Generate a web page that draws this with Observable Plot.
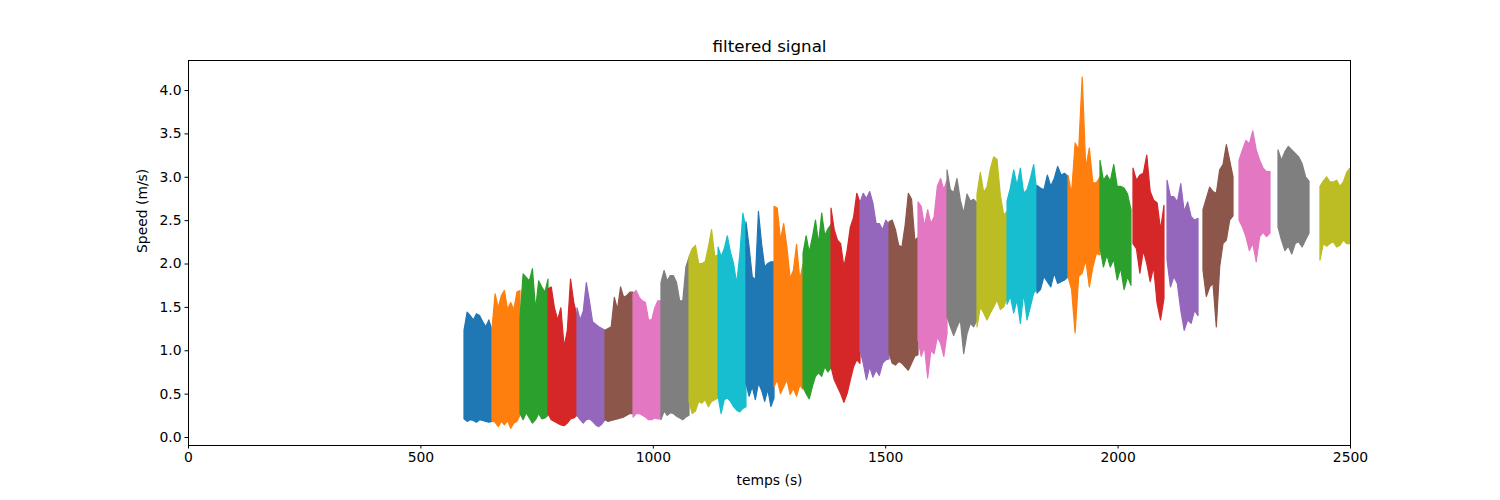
<!DOCTYPE html>
<html>
<head>
<meta charset="utf-8">
<script src="https://cdn.jsdelivr.net/npm/d3@7"></script>
<script src="https://cdn.jsdelivr.net/npm/@observablehq/plot@0.6"></script>
<style>
  html, body { margin: 0; padding: 0; background: #fff; }
</style>
</head>
<body>
<div id="chart"></div>
<script>
// Segment start / end times (s)
const segStart = [593.8, 654.0, 714.3, 774.5, 836.9, 897.2, 957.4, 1017.6, 1077.9, 1140.3,
  1200.5, 1260.8, 1323.2, 1383.4, 1445.8, 1508.2, 1570.6, 1633.0, 1697.5, 1762.1,
  1826.6, 1893.3, 1962.1, 2033.1, 2106.3, 2183.7, 2261.2, 2345.1, 2435.4];
const segEnd = [654.0, 714.3, 774.5, 836.9, 897.2, 957.4, 1017.6, 1077.9, 1140.3, 1200.5,
  1260.8, 1323.2, 1383.4, 1445.8, 1508.2, 1570.6, 1633.0, 1697.5, 1762.1, 1826.6,
  1893.3, 1962.1, 2028.8, 2099.8, 2173.0, 2248.3, 2327.9, 2411.8, 2500];

// Upper envelope of each segment (m/s)
const segHigh = [
  [1.23, 1.44, 1.40, 1.35, 1.42, 1.40, 1.33, 1.27, 1.35, 1.23],
  [1.25, 1.65, 1.49, 1.63, 1.69, 1.47, 1.55, 1.47, 1.67, 1.69],
  [1.38, 1.88, 1.84, 1.80, 1.94, 1.47, 1.80, 1.73, 1.67, 1.82],
  [1.71, 1.73, 1.49, 1.35, 1.49, 1.04, 1.23, 1.82, 1.55, 1.40],
  [1.49, 1.35, 1.45, 1.78, 1.57, 1.33, 1.30, 1.27, 1.25, 1.23],
  [1.23, 1.25, 1.27, 1.61, 1.47, 1.73, 1.61, 1.63, 1.67, 1.67],
  [1.65, 1.69, 1.61, 1.57, 1.55, 1.35, 1.35, 1.49, 1.57, 1.57],
  [1.78, 1.92, 1.80, 1.86, 1.86, 1.78, 1.57, 1.57, 1.96, 2.07],
  [2.08, 2.17, 2.21, 2.00, 2.00, 2.02, 2.19, 2.39, 2.08, 2.10],
  [2.19, 2.08, 2.17, 2.32, 2.13, 2.00, 1.77, 2.10, 2.58, 2.40],
  [2.48, 2.19, 1.85, 1.81, 2.60, 2.23, 1.96, 2.00, 2.02, 2.02],
  [2.66, 2.64, 2.27, 2.46, 2.19, 1.83, 1.92, 2.22, 1.81, 2.00],
  [2.12, 2.32, 2.13, 2.30, 2.50, 2.23, 2.58, 2.32, 2.40, 2.45],
  [2.64, 2.39, 2.27, 2.23, 1.96, 2.15, 2.42, 2.53, 2.81, 2.70],
  [2.70, 2.81, 2.75, 2.83, 2.70, 2.46, 2.46, 2.39, 2.50, 2.45],
  [2.48, 2.50, 2.39, 2.21, 2.19, 2.44, 2.81, 2.74, 2.27, 2.30],
  [2.71, 2.66, 2.43, 2.62, 2.46, 2.54, 2.89, 2.98, 2.85, 2.96],
  [3.08, 2.85, 2.82, 2.98, 2.73, 2.58, 2.80, 2.72, 2.74, 2.70],
  [2.80, 3.05, 2.82, 2.88, 3.09, 3.23, 3.20, 2.79, 2.56, 2.60],
  [2.72, 2.87, 3.08, 2.90, 3.10, 2.81, 2.85, 2.98, 3.14, 2.81],
  [2.90, 2.87, 2.85, 3.02, 2.89, 2.98, 3.12, 3.02, 3.04, 3.00],
  [3.02, 2.81, 3.39, 3.31, 4.15, 3.10, 3.33, 2.93, 2.93, 3.00],
  [3.19, 2.96, 3.02, 2.95, 3.14, 2.89, 2.89, 2.87, 2.80, 2.62],
  [3.10, 2.96, 3.02, 3.04, 3.25, 2.83, 2.73, 2.70, 2.39, 2.67],
  [2.96, 2.77, 2.77, 2.71, 2.92, 2.60, 2.71, 2.54, 2.50, 2.52],
  [2.62, 2.75, 2.88, 2.83, 2.81, 3.08, 3.14, 3.37, 3.19, 3.00],
  [3.19, 3.31, 3.42, 3.38, 3.53, 3.31, 3.19, 3.10, 3.06, 3.06],
  [3.31, 3.19, 3.29, 3.35, 3.31, 3.27, 3.23, 3.15, 3.00, 2.95],
  [2.89, 2.95, 3.00, 2.94, 2.94, 2.96, 2.89, 2.94, 3.05, 3.10]
];

// Lower envelope of each segment (m/s)
const segLow = [
  [0.21, 0.18, 0.20, 0.19, 0.17, 0.20, 0.19, 0.18, 0.17, 0.18],
  [0.19, 0.17, 0.12, 0.18, 0.14, 0.19, 0.10, 0.16, 0.18, 0.25],
  [0.27, 0.20, 0.28, 0.22, 0.16, 0.20, 0.27, 0.21, 0.22, 0.25],
  [0.27, 0.20, 0.18, 0.16, 0.14, 0.13, 0.16, 0.21, 0.22, 0.25],
  [0.25, 0.20, 0.16, 0.20, 0.21, 0.18, 0.14, 0.12, 0.15, 0.20],
  [0.20, 0.18, 0.19, 0.20, 0.21, 0.22, 0.23, 0.25, 0.27, 0.27],
  [0.23, 0.27, 0.27, 0.25, 0.23, 0.20, 0.20, 0.22, 0.21, 0.21],
  [0.20, 0.30, 0.25, 0.28, 0.27, 0.24, 0.22, 0.20, 0.23, 0.25],
  [0.41, 0.27, 0.30, 0.41, 0.39, 0.43, 0.35, 0.41, 0.43, 0.45],
  [0.47, 0.27, 0.43, 0.45, 0.41, 0.35, 0.31, 0.29, 0.33, 0.35],
  [0.62, 0.47, 0.58, 0.43, 0.62, 0.54, 0.41, 0.55, 0.35, 0.45],
  [0.58, 0.66, 0.50, 0.58, 0.66, 0.49, 0.56, 0.47, 0.60, 0.55],
  [0.58, 0.50, 0.44, 0.58, 0.70, 0.74, 0.70, 0.81, 0.75, 0.80],
  [0.81, 0.66, 0.58, 0.50, 0.40, 0.50, 0.66, 0.81, 0.89, 0.85],
  [1.00, 0.85, 0.66, 0.81, 0.69, 0.77, 0.71, 0.85, 0.89, 0.90],
  [0.97, 0.85, 0.83, 0.87, 0.85, 0.81, 0.77, 0.85, 0.93, 0.95],
  [1.12, 0.93, 1.04, 0.68, 1.00, 0.96, 1.15, 1.08, 0.93, 1.19],
  [1.39, 1.27, 1.17, 1.27, 1.35, 0.96, 1.19, 1.31, 1.27, 1.35],
  [1.27, 1.50, 1.43, 1.35, 1.43, 1.50, 1.58, 1.47, 1.50, 1.60],
  [1.53, 1.62, 1.43, 1.58, 1.31, 1.66, 1.35, 1.50, 1.66, 1.70],
  [1.66, 1.70, 1.85, 1.79, 1.73, 1.89, 1.77, 1.79, 1.81, 1.85],
  [1.85, 1.70, 1.20, 1.85, 1.89, 2.04, 1.73, 1.96, 2.12, 2.10],
  [2.19, 1.96, 2.10, 1.96, 2.05, 1.81, 1.95, 1.70, 1.85, 1.75],
  [2.23, 2.17, 1.89, 2.15, 2.00, 1.79, 1.96, 1.54, 1.35, 1.60],
  [2.04, 1.73, 1.85, 1.77, 1.46, 1.23, 1.35, 1.31, 1.46, 1.40],
  [1.92, 1.62, 1.73, 1.77, 1.27, 1.96, 2.23, 2.27, 2.50, 2.55],
  [2.50, 2.42, 2.31, 2.15, 2.23, 2.02, 2.31, 2.36, 2.31, 2.35],
  [2.42, 2.27, 2.15, 2.20, 2.11, 2.23, 2.25, 2.19, 2.27, 2.35],
  [2.04, 2.23, 2.20, 2.23, 2.25, 2.19, 2.21, 2.27, 2.23, 2.23]
];

const palette = ["#1f77b4", "#ff7f0e", "#2ca02c", "#d62728", "#9467bd",
  "#8c564b", "#e377c2", "#7f7f7f", "#bcbd22", "#17becf"];
const xTicks = [0, 500, 1000, 1500, 2000, 2500];
const yTicks = [0.0, 0.5, 1.0, 1.5, 2.0, 2.5, 3.0, 3.5, 4.0];
const titleText = "filtered signal";
const xLabel = "temps (s)";
const yLabel = "Speed (m/s)";

// Build one table per segment: sample k of n sits at start + k/(n-1) of the segment
const segments = segHigh.map((hi, s) => hi.map((h, k) => ({
  t: segStart[s] + (segEnd[s] - segStart[s]) * k / (hi.length - 1),
  hi: h,
  lo: segLow[s][k]
})));

const marks = segments.map((rows, s) =>
  Plot.areaY(rows, {x: "t", y1: "lo", y2: "hi", fill: palette[s % 10],
    stroke: palette[s % 10], strokeWidth: 1.2, clip: true})
);

const chart = Plot.plot({
  width: 1500,
  height: 500,
  marginLeft: 188,
  marginRight: 150,
  marginTop: 60,
  marginBottom: 55,
  style: {fontFamily: "DejaVu Sans", fontSize: "13.9px", background: "#fff", color: "#000"},
  x: {domain: [0, 2500]},
  y: {domain: [-0.092, 4.346]},
  marks: [
    ...marks,
    Plot.frame({stroke: "#000", strokeWidth: 1}),
    Plot.axisX({ticks: xTicks, tickSize: 3.5, tickPadding: 3.5, label: null, tickFormat: d3.format("d")}),
    Plot.axisY({ticks: yTicks, tickSize: 3.5, tickPadding: 3.5, label: null, tickFormat: d3.format(".1f")}),
    Plot.text([titleText], {frameAnchor: "top", text: d => d, dy: -14, fontSize: 16.7, lineAnchor: "middle"}),
    Plot.text([xLabel], {frameAnchor: "bottom", text: d => d, dy: 35, fontSize: 13.9, lineAnchor: "middle"}),
    Plot.text([yLabel], {frameAnchor: "left", text: d => d, dx: -46, rotate: -90, fontSize: 13.9, lineAnchor: "middle"})
  ]
});
document.getElementById("chart").appendChild(chart);
</script>
</body>
</html>
